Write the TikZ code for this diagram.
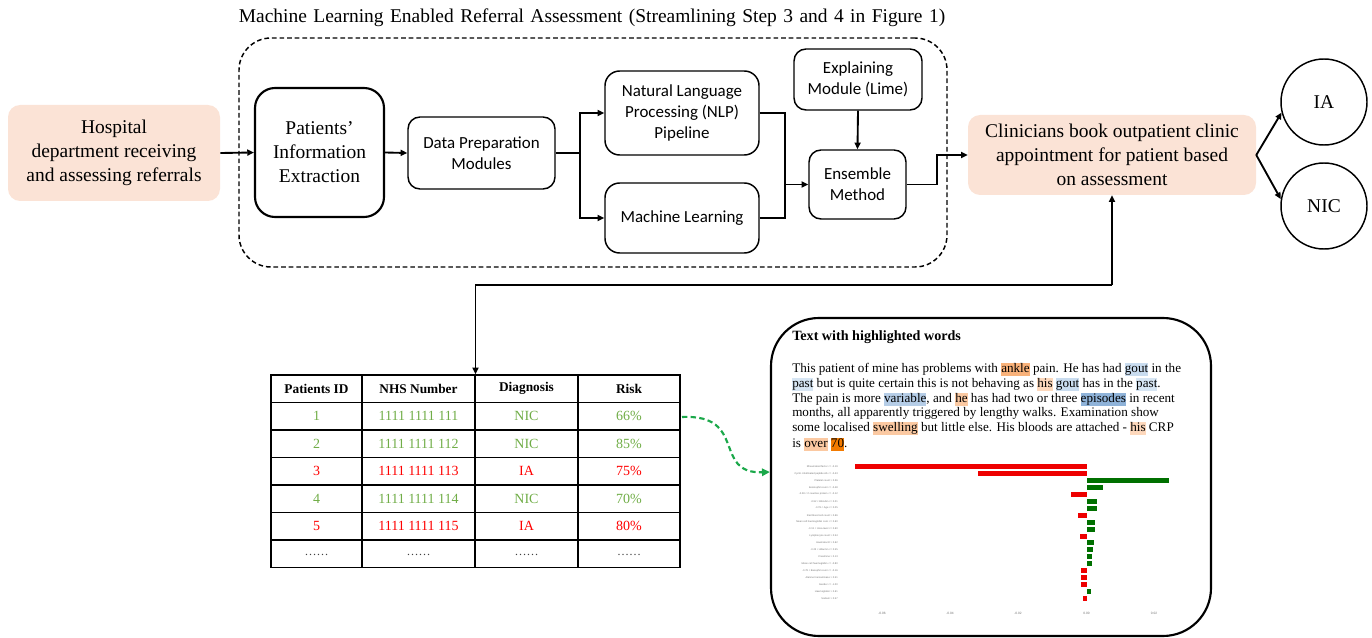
\documentclass[tikz,border=0pt]{standalone}
\usepackage{fontspec}
\setmainfont{Liberation Serif}
\newfontfamily\calfont{Carlito}
\newfontfamily\lblfont{Liberation Sans}
\usetikzlibrary{arrows.meta,calc}
\definecolor{peach}{HTML}{FBE3D6}
\definecolor{tgreen}{HTML}{70AD47}
\definecolor{tred}{HTML}{FF0000}
\definecolor{cgreen}{HTML}{1BA84A}
\definecolor{barred}{HTML}{EE0000}
\definecolor{bargreen}{HTML}{007000}
\definecolor{hOrA}{HTML}{F9B27A}
\definecolor{hOrB}{HTML}{FDD8BC}
\definecolor{hOrC}{HTML}{FBC9A2}
\definecolor{hOrD}{HTML}{F27A00}
\definecolor{hBlA}{HTML}{C9DCEF}
\definecolor{hBlB}{HTML}{D6E5F3}
\definecolor{hBlC}{HTML}{B5CDE7}
\definecolor{hBlD}{HTML}{8FB3D9}
\newcommand\hl[2]{{\setlength{\fboxsep}{0pt}\colorbox{#1}{\rule[-2.7pt]{0pt}{9.8pt}#2}}}
\begin{document}
\begin{tikzpicture}[x=0.75pt,y=-0.75pt,
  serif/.style={font=\fontsize{14.6}{18}\selectfont, align=center},
  sbox/.style={draw, line width=1.1pt, align=center, inner sep=2pt,
    font=\calfont\fontsize{12.7}{15.5}\selectfont},
  pbox/.style={fill=peach, rounded corners=9pt, serif, inner sep=2pt},
  circ/.style={draw, circle, line width=1.1pt, minimum size=64.5pt, serif},
  conn/.style={line width=1.4pt},
  arr/.style={conn, -{Triangle[length=5pt,width=4.5pt]}},
  cell/.style={font=\fontsize{10.5}{12}\selectfont, inner sep=0pt},
  head/.style={font=\bfseries\fontsize{10}{12}\selectfont, inner sep=0pt},
  body/.style={anchor=base west, inner sep=0pt, font=\fontsize{9.85}{11}\selectfont},
  lbl/.style={anchor=east, inner sep=0pt, text=black!55, font=\lblfont\fontsize{1.9}{2}\selectfont},
  tick/.style={inner sep=0pt, text=black!55, font=\lblfont\fontsize{2.4}{3}\selectfont}]
\useasboundingbox (0,0) rectangle (1372,638);

% title and frame
\node[font=\fontsize{14.6}{17}\selectfont, inner sep=0pt] (title) at (592,18) {\spaceskip=0.33em plus 0.1em Machine Learning Enabled Referral Assessment (Streamlining Step 3 and 4 in Figure 1)};
\node[draw, dashed, line width=1.1pt, rounded corners=24pt, minimum width=531pt, minimum height=171.75pt, dash pattern=on 3.5pt off 2.2pt] (frame) at (593,152.5) {};

% boxes
\node[pbox, minimum width=159pt, minimum height=72pt] (hosp) at (114,153) {Hospital\\department receiving\\and assessing referrals};
\node[draw, line width=1.6pt, rounded corners=15pt, minimum width=96.75pt, minimum height=96.75pt, serif] (pie) at (319.5,152.5) {Patients'\\Information\\Extraction};
\node[sbox, rounded corners=9pt, minimum width=110.25pt, minimum height=54pt] (dp) at (481.5,153) {Data Preparation\\Modules};
\node[sbox, rounded corners=11pt, minimum width=115.5pt, minimum height=63pt] (nlp) at (682,113) {Natural Language\\Processing (NLP)\\Pipeline};
\node[sbox, rounded corners=11pt, minimum width=115.5pt, minimum height=52.5pt] (ml) at (682,218) {Machine Learning};
\node[sbox, rounded corners=9pt, minimum width=96pt, minimum height=45.75pt] (exp) at (858,79.5) {Explaining\\Module (Lime)};
\node[sbox, rounded corners=9pt, minimum width=72.75pt, minimum height=51.75pt] (ens) at (857.5,184.5) {Ensemble\\Method};
\node[pbox, minimum width=216pt, minimum height=60pt] (clin) at (1112,155) {Clinicians book outpatient clinic\\appointment for patient based\\on assessment};
\node[circ] (ia) at (1324,102) {IA};
\node[circ] (nic) at (1324,206) {NIC};

% connectors (top)
\coordinate (br1) at (580,153);
\coordinate (jn) at (785,184.5);
\coordinate (e1) at (937,184.5);
\draw[arr] (hosp.east) -- (pie.west);
\draw[arr] (pie.east) -- (dp.west);
\draw[conn] (dp.east) -- (br1);
\draw[arr] (br1) |- (nlp.west);
\draw[arr] (br1) |- (ml.west);
\draw[conn] (nlp.east) -| (jn);
\draw[conn] (ml.east) -| (jn);
\draw[arr] (jn) -- (ens.west);
\draw[arr] (exp.south) -- (ens.north);
\draw[arr] (ens.east) -- (e1) |- (clin.west);
\draw[arr] (clin.east) -- (ia.194);
\draw[arr] (clin.east) -- (nic.171);

% table
\node[draw, line width=1pt, minimum width=306.75pt, minimum height=144.375pt, inner sep=0pt] (tbl) at (475.5,471.25) {};
\foreach \xx in {362,475,578} \draw[line width=1pt] (\xx,375) -- (\xx,567.5);
\foreach \yy in {402.5,430,457.5,485,512.5,540} \draw[line width=1pt] (271,\yy) -- (680,\yy);
\node[head] (h1) at (316.5,388.75) {Patients ID};
\node[head] (h2) at (418.5,388.75) {NHS Number};
\node[head] (h3) at (526.5,388.75) {Diagnosis};
\node[head] (h4) at (629,388.75) {Risk};
\foreach \r/\id/\nhs/\dg/\rk/\cc [count=\i] in {
  416.25/1/1111 1111 111/NIC/66\%/tgreen,
  443.75/2/1111 1111 112/NIC/85\%/tgreen,
  471.25/3/1111 1111 113/IA/75\%/tred,
  498.75/4/1111 1111 114/NIC/70\%/tgreen,
  526.25/5/1111 1111 115/IA/80\%/tred} {
  \node[cell, text=\cc] (r\i a) at (316.5,\r) {\id};
  \node[cell, text=\cc] (r\i b) at (418.5,\r) {\nhs};
  \node[cell, text=\cc] (r\i c) at (526.5,\r) {\dg};
  \node[cell, text=\cc] (r\i d) at (629,\r) {\rk};
}
\foreach \xx [count=\i] in {316.5,418.5,526.5,629}
  \node[cell, font=\fontsize{9}{10}\selectfont, text=black!75] (d\i) at (\xx,555) {……};

% connector to table
\coordinate (k) at (1112,285);
\draw[arr] (k) -- (clin.south);
\draw[arr] (k) -| (tbl.north);

% text box
\node[draw, line width=1.6pt, rounded corners=36pt, minimum width=330pt, minimum height=238.5pt] (txt) at (991,477) {};
\coordinate (g1) at (682,417);
\draw[cgreen, line width=1.6pt, dash pattern=on 4pt off 2.5pt, -{Triangle[length=6pt,width=5.5pt]}] (g1) .. controls (748,414) and (712,474) .. ($(txt.west)+(0,-5)$);

\node[anchor=base west, inner sep=0pt, font=\bfseries\fontsize{10.6}{12}\selectfont] (tt) at (792,340) {Text with highlighted words};
\node[body] (l1) at (792,372) {This patient of mine has problems with \hl{hOrA}{ankle} pain. He has had \hl{hBlA}{gout} in the};
\node[body] (l2) at (792,387) {\hl{hBlB}{past} but is quite certain this is not behaving as \hl{hOrB}{his} \hl{hBlA}{gout} has in the \hl{hBlB}{past}.};
\node[body] (l3) at (792,402) {The pain is more \hl{hBlC}{variable}, and \hl{hOrC}{he} has had two or three \hl{hBlD}{episodes} in recent};
\node[body] (l4) at (792,416.5) {months, all apparently triggered by lengthy walks. Examination show};
\node[body] (l5) at (792,431) {some localised \hl{hOrC}{swelling} but little else. His bloods are attached - \hl{hOrB}{his} CRP};
\node[body] (l6) at (792,447) {is \hl{hOrC}{over} \hl{hOrD}{70}.};

% bar chart
\foreach \v/\c [count=\i] in {855/barred,977.7/barred,1169/bargreen,1103.3/bargreen,1071/barred,
  1097.3/bargreen,1096.7/bargreen,1078/barred,1095.3/bargreen,1094.7/bargreen,1079.7/barred,
  1094/bargreen,1093.3/bargreen,1092.3/bargreen,1092.3/bargreen,1081.3/barred,1081.3/barred,
  1081.3/barred,1090.7/bargreen,1083/barred} {
  \pgfmathsetmacro\yy{466.5+6.95*(\i-1)}
  \fill[\c] (1086.5,\yy-2.5) rectangle (\v,\yy+2.5);
}
\foreach \t [count=\i] in {Rheumatoid factor <= -0.19,Cyclic citrullinated peptide Ab <= -0.43,
  Platelet count > 0.36,Eosinophil count <= -0.48,-0.28 < C-reactive protein <= -0.12,
  -0.92 < Bilirubin <= 0.01,-0.78 < Age <= 0.05,Red blood cell count > 0.66,
  Mean cell haemoglobin conc <= 0.60,-0.13 < Urea level <= 0.60,Lymphocyte count > 0.54,
  Haematocrit > 0.62,-0.23 < Albumin <= 0.55,Creatinine > 0.13,Mean cell haemoglobin <= -0.80,
  -0.78 < Basophil count <= -0.16,Alanine transaminase > 0.51,Gender <= -1.00,
  Haemoglobin > 0.61,Sodium > 0.57} {
  \pgfmathsetmacro\yy{466.5+6.95*(\i-1)}
  \node[lbl] (f\i) at (838,\yy) {\t};
}
\foreach \xx/\t [count=\i] in {882/-0.06,950/-0.04,1018/-0.02,1086.5/0.00,1154/0.02}
  \node[tick] (x\i) at (\xx,613) {\t};
\end{tikzpicture}
\end{document}
